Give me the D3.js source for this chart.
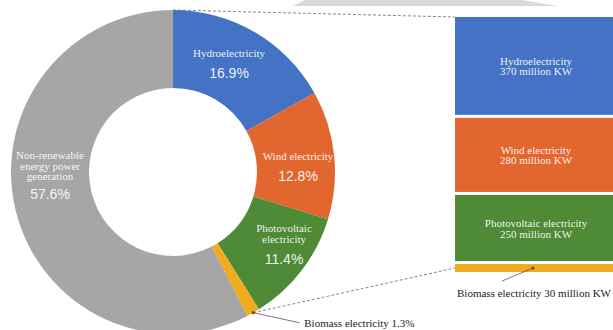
<!DOCTYPE html>
<html lang="en">
<head>
    <meta charset="UTF-8">
    <title>Renewable power capacity</title>
    <script src="https://d3js.org/d3.v7.min.js"></script>
    <style>
        html, body { margin: 0; padding: 0; background: #fff; }
        svg { display: block; }
        .serif { font-family: "Liberation Serif", "Times New Roman", serif; }
        .sans { font-family: "Liberation Sans", Arial, sans-serif; }
    </style>
</head>
<body>
    <div id="chart"></div>
    <script>
        // Data
        const pieNames = ["Hydroelectricity", "Wind electricity", "Photovoltaic electricity", "Biomass electricity", "Non-renewable energy power generation"];
        const pieShares = [16.9, 12.8, 11.4, 1.3, 57.6];
        const pieColors = ["#4472C4", "#E2672F", "#4F8A36", "#F0AC1E", "#A6A6A6"];
        // label lines shown inside the donut (biomass is labelled outside)
        const pieLabelLines = [["Hydroelectricity"], ["Wind electricity"], ["Photovoltaic", "electricity"], [], ["Non-renewable", "energy power", "generation"]];

        const barNames = ["Hydroelectricity", "Wind electricity", "Photovoltaic electricity", "Biomass electricity"];
        const barValues = [370, 280, 250, 30];
        const barUnit = "million KW";

        const width = 613, height = 330;
        const cx = 173, cy = 172, outerR = 162, innerR = 84;

        const svg = d3.select("#chart").append("svg")
            .attr("width", width)
            .attr("height", height);

        // light gray decoration at the top edge
        svg.append("polygon")
            .attr("points", "305,0 293,6 558,6 522,0")
            .attr("fill", "#d9d9d9");

        // Donut
        const pie = d3.pie().sort(null).value(d => d)(pieShares);
        const arc = d3.arc().innerRadius(innerR).outerRadius(outerR);
        const g = svg.append("g").attr("transform", `translate(${cx},${cy})`);

        g.selectAll("path.slice")
            .data(pie)
            .enter().append("path")
            .attr("class", "slice")
            .attr("d", arc)
            .attr("fill", (d, i) => pieColors[i]);

        // label centres inside the slices (relative to donut centre)
        const labelPos = [[56, -115, 20], [125, -12, 20], [111, 60, 20], null, [-123, -13, 18]];
        pie.forEach((d, i) => {
            const p = labelPos[i];
            if (!p) return;
            const lines = pieLabelLines[i];
            const t = g.append("g").attr("transform", `translate(${p[0]},${p[1]})`);
            lines.forEach((ln, j) => {
                t.append("text")
                    .attr("class", "serif")
                    .attr("text-anchor", "middle")
                    .attr("y", j * 10.5)
                    .attr("font-size", 11)
                    .attr("fill", "#fff")
                    .attr("fill-opacity", 0.92)
                    .text(ln);
            });
            t.append("text")
                .attr("class", "sans")
                .attr("text-anchor", "middle")
                .attr("y", (lines.length - 1) * 10.5 + p[2] + 1)
                .attr("font-size", 14)
                .attr("fill", "#fff")
                .attr("fill-opacity", 0.92)
                .text(pieShares[i].toFixed(1) + "%");
        });

        // Stacked bar for the renewable part
        const barX = 455, barW = 163, barTop = 17, gap = 3;
        const total = d3.sum(barValues);
        const y = d3.scaleLinear().domain([0, total]).range([0, 246]);
        let cum = 0;
        const bars = barValues.map((v, i) => {
            const b = { name: barNames[i], value: v, y0: barTop + y(cum) + i * gap, h: y(v) };
            cum += v;
            return b;
        });

        svg.selectAll("rect.bar")
            .data(bars)
            .enter().append("rect")
            .attr("class", "bar")
            .attr("x", barX)
            .attr("y", d => d.y0)
            .attr("width", barW)
            .attr("height", d => d.h)
            .attr("fill", (d, i) => pieColors[i]);

        bars.slice(0, 3).forEach(b => {
            const mid = b.y0 + b.h / 2;
            [b.name, b.value + " " + barUnit].forEach((ln, j) => {
                svg.append("text")
                    .attr("class", "serif")
                    .attr("x", barX + 81)
                    .attr("y", mid - 1 + j * 10.5)
                    .attr("text-anchor", "middle")
                    .attr("font-size", 11)
                    .attr("fill", "#fff")
                    .attr("fill-opacity", 0.92)
                    .text(ln);
            });
        });

        // Dashed connectors from the donut to the bar
        const bio = pie[3];
        const bioAng = (bio.startAngle + bio.endAngle) / 2;
        const bioPt = [cx + outerR * Math.sin(bioAng), cy - outerR * Math.cos(bioAng)];
        const bioBar = bars[3];

        svg.append("line")
            .attr("x1", cx).attr("y1", cy - outerR)
            .attr("x2", barX).attr("y2", barTop)
            .attr("stroke", "#888").attr("stroke-width", 1)
            .attr("stroke-dasharray", "3,2");

        svg.append("line")
            .attr("x1", bioPt[0]).attr("y1", bioPt[1])
            .attr("x2", barX).attr("y2", bioBar.y0 + bioBar.h / 2)
            .attr("stroke", "#888").attr("stroke-width", 1)
            .attr("stroke-dasharray", "3,2");

        // Biomass callouts
        svg.append("line")
            .attr("x1", bioPt[0]).attr("y1", bioPt[1])
            .attr("x2", bioPt[0] + 46).attr("y2", bioPt[1] + 10)
            .attr("stroke", "#555").attr("stroke-width", 0.8);
        svg.append("circle")
            .attr("cx", bioPt[0]).attr("cy", bioPt[1]).attr("r", 1.6)
            .attr("fill", "#6b4a1a");
        svg.append("text")
            .attr("class", "serif")
            .attr("x", bioPt[0] + 51).attr("y", bioPt[1] + 14)
            .attr("font-size", 11)
            .attr("fill", "#222")
            .text(barNames[3] + " " + pieShares[3] + "%");

        const bdot = [barX + 78, bioBar.y0 + bioBar.h / 2];
        svg.append("line")
            .attr("x1", bdot[0]).attr("y1", bdot[1])
            .attr("x2", bdot[0] - 31).attr("y2", bdot[1] + 13)
            .attr("stroke", "#555").attr("stroke-width", 0.8);
        svg.append("circle")
            .attr("cx", bdot[0]).attr("cy", bdot[1]).attr("r", 1.6)
            .attr("fill", "#6b4a1a");
        svg.append("text")
            .attr("class", "serif")
            .attr("x", barX + 79).attr("y", bioBar.y0 + bioBar.h + 25)
            .attr("text-anchor", "middle")
            .attr("font-size", 11)
            .attr("fill", "#222")
            .text(barNames[3] + " " + barValues[3] + " " + barUnit);
    </script>
</body>
</html>
